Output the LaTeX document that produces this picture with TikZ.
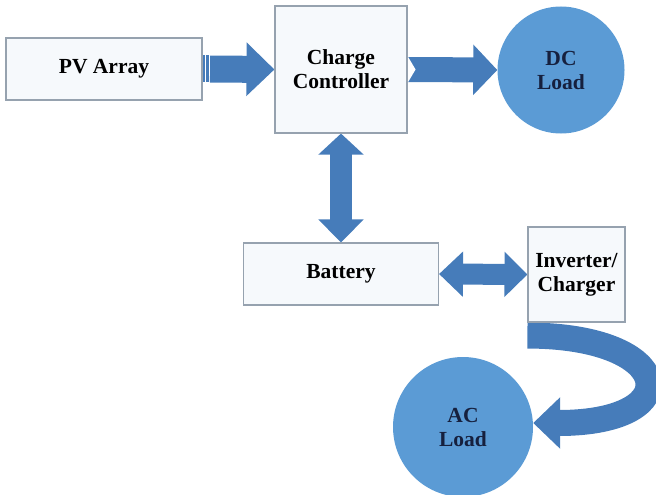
\documentclass[tikz,border=0pt]{standalone}
\usepackage{fontspec}
\setmainfont{Liberation Serif}
\usetikzlibrary{positioning,arrows.meta,backgrounds}
\definecolor{edge}{RGB}{150,162,175}
\definecolor{boxfill}{RGB}{246,249,252}
\definecolor{flow}{RGB}{70,124,186}
\definecolor{load}{RGB}{91,155,213}
\definecolor{loadtxt}{RGB}{22,32,62}

\begin{document}
\begin{tikzpicture}[
  x=1pt, y=-1pt,
  font=\fontsize{21.5}{24}\selectfont\bfseries,
  blk/.style={draw=edge, line width=1.1pt, fill=boxfill, inner sep=0pt, align=center},
  ld/.style={circle, fill=load, inner sep=0pt, align=center, text=loadtxt},
  fat/.style={draw=flow, line width=#1},
]
\useasboundingbox (0,0) rectangle (656,495);

% ---- blocks ----
\node[blk, minimum width=196pt, minimum height=62pt] (PV) at (104,69) {PV Array};
\node[blk, minimum width=132pt, minimum height=127pt] (CC) at (341,69.5) {Charge\\Controller};
\node[ld, minimum size=127pt] (DC) at (561,70) {DC\\Load};
\node[blk, minimum width=195pt, minimum height=62pt] (BAT) at (341,274) {Battery};
\node[blk, minimum width=97pt, minimum height=95pt] (INV) at (576.5,274.5) {Inverter/\\Charger};
\node[ld, minimum size=140pt] (AC) at (463,427) {AC\\Load};

% ---- block arrows (behind the boxes) ----
\begin{scope}[on background layer]
  % striped arrow: PV -> controller
  \fill[flow] ([yshift=13.5pt]PV.east) rectangle ([xshift=2.5pt,yshift=-13.5pt]PV.east);
  \fill[flow] ([xshift=3.5pt,yshift=13.5pt]PV.east) rectangle ([xshift=6.5pt,yshift=-13.5pt]PV.east);
  \draw[fat=27pt, -{Triangle[width=52pt,length=28pt]}] ([xshift=7.5pt]PV.east) -- (CC.west);
  % notched arrow: controller -> DC load
  \draw[fat=25pt, -{Triangle[width=49pt,length=24pt]}] (CC.east) -- (DC.west);
  \fill[white] ([xshift=0.6pt,yshift=12.5pt]CC.east) -- ([xshift=8pt]CC.east)
     -- ([xshift=0.6pt,yshift=-12.5pt]CC.east) -- cycle;
  % two-way links
  \draw[fat=22pt, {Triangle[width=44pt,length=21pt]}-{Triangle[width=44pt,length=23pt]}] (CC.south) -- (BAT.north);
  \draw[fat=21pt, {Triangle[width=44pt,length=24pt]}-{Triangle[width=44pt,length=23pt]}] (BAT.east) -- (INV.west);
  % curved arrow: inverter -> AC load
  \draw[fat=26pt, -{Triangle[width=50pt,length=27pt]}] ([yshift=-13pt]INV.south west)
     .. controls +(148,0) and +(157,0) .. ([yshift=4pt]AC.east);
\end{scope}

\end{tikzpicture}
\end{document}
